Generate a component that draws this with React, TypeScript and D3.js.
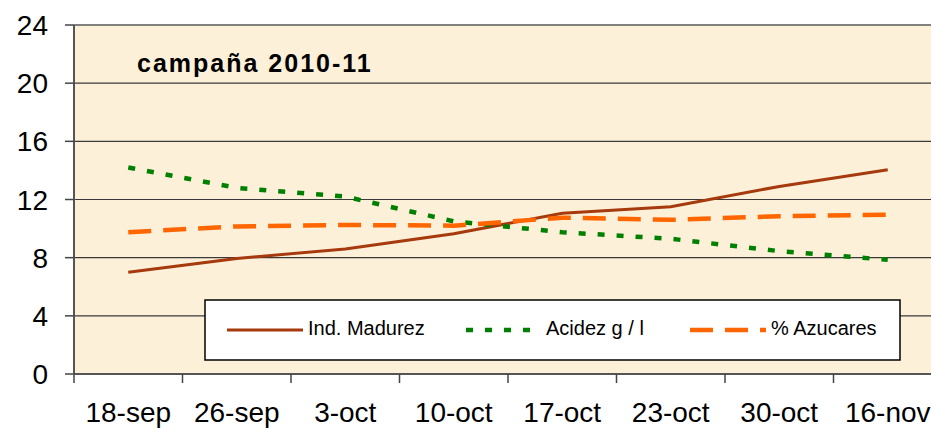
import React from 'react'
import * as d3 from 'd3'

const fechas = ['18-sep', '26-sep', '3-oct', '10-oct', '17-oct', '23-oct', '30-oct', '16-nov']
const madurez = [7.0, 7.95, 8.6, 9.65, 11.05, 11.5, 12.9, 14.05]
const acidez = [14.2, 12.8, 12.2, 10.5, 9.75, 9.3, 8.45, 7.85]
const azucares = [9.75, 10.15, 10.25, 10.2, 10.75, 10.6, 10.85, 10.95]
const yTicks = [0, 4, 8, 12, 16, 20, 24]

const series = [
  {name: 'Ind. Madurez', values: madurez, color: '#A63A0C', width: 3, dash: null},
  {name: 'Acidez g / l', values: acidez, color: '#008000', width: 4.5, dash: '7,12'},
  {name: '% Azucares', values: azucares, color: '#FF6600', width: 4.5, dash: '23,12'},
]

const layout = {width: 931, height: 429, left: 74, right: 942, top: 25, bottom: 374}
const font = '"Liberation Sans", Arial, sans-serif'

export default function App() {
  const x = d3.scaleBand().domain(fechas).range([layout.left, layout.right])
  const y = d3.scaleLinear().domain([0, 24]).range([layout.bottom, layout.top])
  const cx = (d: string) => (x(d) as number) + x.bandwidth() / 2

  const line = d3.line<number>()
    .x((d, i) => cx(fechas[i]))
    .y(d => y(d))

  // legend samples and text, positioned by hand like excel does
  const legend = [
    {x1: 227, x2: 303, tx: 308},
    {x1: 466, x2: 532, tx: 546},
    {x1: 690, x2: 766, tx: 771},
  ]

  return (
    <svg width={layout.width} height={layout.height}
      style={{position: 'absolute', left: 0, top: 0, background: '#fff'}}>
      <rect x={layout.left} y={layout.top} width={layout.right - layout.left}
        height={layout.bottom - layout.top} fill="#FCF0D9" />

      {yTicks.filter(t => t > 0).map(t => (
        <line key={t} x1={layout.left} x2={layout.right} y1={y(t)} y2={y(t)}
          stroke={t === 24 ? '#808080' : '#3a3a3a'} strokeWidth={t === 24 ? 2 : 1.2} />
      ))}

      {/* y axis */}
      <line x1={layout.left} x2={layout.left} y1={layout.top} y2={layout.bottom} stroke="#555" strokeWidth={2} />
      {yTicks.map(t => (
        <g key={t}>
          <line x1={layout.left - 9} x2={layout.left} y1={y(t)} y2={y(t)} stroke="#444" strokeWidth={1.5} />
          <text x={48} y={y(t)} dy="0.36em" textAnchor="end" fontFamily={font} fontSize={28} fill="#000">{t}</text>
        </g>
      ))}

      {/* x axis */}
      <line x1={layout.left} x2={layout.right} y1={layout.bottom} y2={layout.bottom} stroke="#555" strokeWidth={2} />
      {fechas.map(f => (
        <g key={f}>
          <line x1={x(f)} x2={x(f)} y1={layout.bottom} y2={layout.bottom + 9} stroke="#444" strokeWidth={1.5} />
          <text x={cx(f)} y={422} textAnchor="middle" fontFamily={font} fontSize={28} fill="#000">{f}</text>
        </g>
      ))}

      <text x={137} y={72} fontFamily={font} fontSize={25} fontWeight="bold" letterSpacing={2} fill="#000">campaña 2010-11</text>

      {/* legend box */}
      <rect x={205} y={300} width={695} height={60} fill="#fff" stroke="#000" strokeWidth={1.5} />

      {series.map(s => (
        <path key={s.name} d={line(s.values) || ''} fill="none" stroke={s.color}
          strokeWidth={s.width} strokeDasharray={s.dash || undefined} />
      ))}

      {series.map((s, i) => (
        <g key={s.name}>
          <line x1={legend[i].x1} x2={legend[i].x2} y1={330} y2={330} stroke={s.color}
            strokeWidth={s.width} strokeDasharray={s.dash || undefined} />
          <text x={legend[i].tx} y={335} fontFamily={font} fontSize={20} fill="#000">{s.name}</text>
        </g>
      ))}
    </svg>
  )
}
